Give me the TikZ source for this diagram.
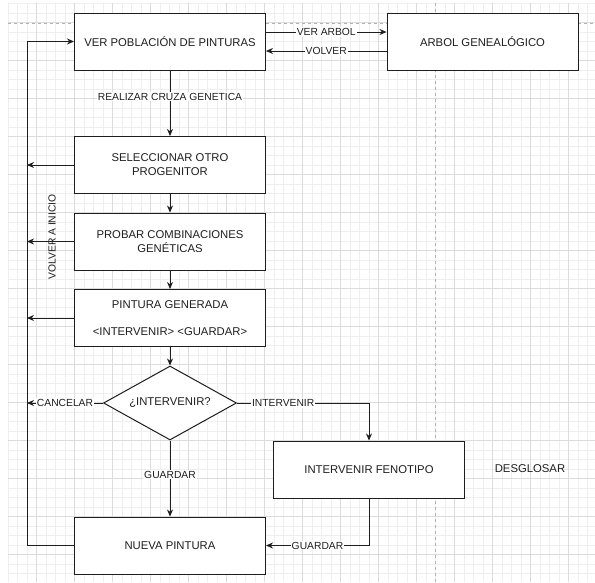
\documentclass[tikz,border=0pt]{standalone}
\usepackage{fontspec}
\setmainfont{Liberation Sans}
\usetikzlibrary{arrows.meta,shapes.geometric}
\definecolor{gridminor}{HTML}{EFEFEF}
\definecolor{gridmajor}{HTML}{DCDCDC}
\definecolor{ink}{HTML}{1E1E1E}
\tikzset{
  box/.style={draw=ink, fill=white, line width=1pt, minimum width=191pt, minimum height=57pt,
    align=center, text=ink, font=\fontsize{11.3}{14}\selectfont},
  decision/.style={diamond, aspect=1.8, draw=ink, fill=white, line width=1pt, minimum width=133pt,
    minimum height=74pt, inner sep=0pt, text=ink, font=\fontsize{11.3}{14}\selectfont},
  arr/.style={draw=ink, line width=0.9pt, -{Stealth[length=7pt,width=6pt]}},
  lbl/.style={fill=white, inner sep=1pt, text=ink, font=\fontsize{10.3}{12}\selectfont},
  minorgrid/.style={draw=gridminor, line width=0.5pt},
  majorgrid/.style={draw=gridmajor, line width=0.6pt},
  guide/.style={draw=gray!60, dashed, line width=0.6pt},
}
\begin{document}
\begin{tikzpicture}[x=1pt, y=-1pt]
    \useasboundingbox (0,0) rectangle (595,582);
    \fill[white] (0,0) rectangle (595,582);
    \foreach \i in {0,...,61} \draw[minorgrid] ({7.8+9.5*\i},3.3) -- ({7.8+9.5*\i},582);
    \foreach \j in {0,...,60} \draw[minorgrid] (7.8,{3.3+9.5*\j}) -- (595,{3.3+9.5*\j});
    \foreach \i in {0,...,14} \draw[majorgrid] ({36.3+38*\i},3.3) -- ({36.3+38*\i},582);
    \foreach \j in {0,...,14} \draw[majorgrid] (7.8,{22.3+38*\j}) -- (595,{22.3+38*\j});
    \draw[guide] (7.8,23) -- (595,23);
    \draw[guide] (435,3.3) -- (435,582);

    \node[box] (poblacion) at (170,41.5) {VER POBLACIÓN DE PINTURAS};
    \node[box] (arbol) at (482.5,41.5) {ARBOL GENEALÓGICO};
    \node[box] (seleccionar) at (170,165) {SELECCIONAR OTRO\\PROGENITOR};
    \node[box] (probar) at (170,241.5) {PROBAR COMBINACIONES\\GENÉTICAS};
    \node[box] (generada) at (170,318) {PINTURA GENERADA\\[13pt]<INTERVENIR> <GUARDAR>};
    \node[decision] (intervenir) at (170,403) {¿INTERVENIR?};
    \node[box] (fenotipo) at (369,469.5) {INTERVENIR FENOTIPO};
    \node[text=ink, font=\fontsize{11.3}{14}\selectfont] (desglosar) at (530,469) {DESGLOSAR};
    \node[box] (nueva) at (170,545.5) {NUEVA PINTURA};
    \node[text=ink, font=\fontsize{10.3}{12}\selectfont, rotate=90] (volverinicio) at (52,237) {VOLVER A INICIO};

    \coordinate (railtop) at (27,41.5);
    \coordinate (railbot) at (27,545.5);

    \draw[arr] ([yshift=9.5pt]poblacion.east) -- node[lbl] {VER ARBOL} ([yshift=9.5pt]arbol.west);
    \draw[arr] ([yshift=-9.5pt]arbol.west) -- node[lbl] {VOLVER} ([yshift=-9.5pt]poblacion.east);
    \draw[arr] (poblacion) -- node[lbl, pos=0.4] {REALIZAR CRUZA GENETICA} (seleccionar);
    \draw[arr] (seleccionar) -- (probar);
    \draw[arr] (probar) -- (generada);
    \draw[arr] (generada) -- (intervenir);
    \draw[arr] (intervenir.west) -- node[lbl] {CANCELAR} (intervenir.west -| railtop);
    \draw[arr] (intervenir.east) -| node[lbl, pos=0.175] {INTERVENIR} (fenotipo.north);
    \draw[arr] (intervenir.south) -- node[lbl, pos=0.45] {GUARDAR} (nueva.north);
    \draw[arr] (fenotipo.south) |- node[lbl, pos=0.75] {GUARDAR} (nueva.east);
    \draw[arr] (seleccionar.west) -- (seleccionar.west -| railtop);
    \draw[arr] (probar.west) -- (probar.west -| railtop);
    \draw[arr] (generada.west) -- (generada.west -| railtop);
    \draw[arr] (nueva.west) -- (railbot) -- (railtop) -- (poblacion.west);
\end{tikzpicture}
\end{document}
